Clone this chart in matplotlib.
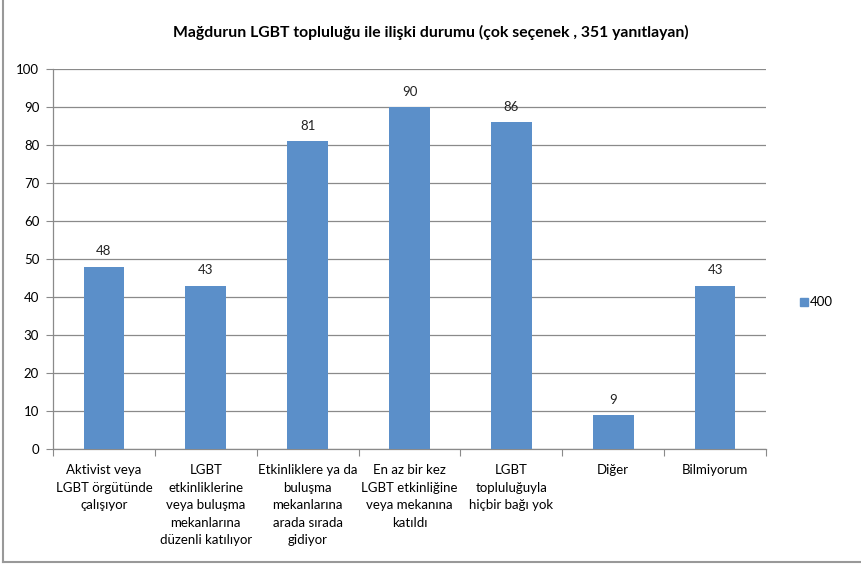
import matplotlib.pyplot as plt
from matplotlib.lines import Line2D

plt.rcParams['font.family'] = ['Lato', 'DejaVu Sans']

# Data
categories = [
    'Aktivist veya\nLGBT örgütünde\nçalışıyor',
    'LGBT\netkinliklerine\nveya buluşma\nmekanlarına\ndüzenli katılıyor',
    'Etkinliklere ya da\nbuluşma\nmekanlarına\narada sırada\ngidiyor',
    'En az bir kez\nLGBT etkinliğine\nveya mekanına\nkatıldı',
    'LGBT\ntopluluğuyla\nhiçbir bağı yok',
    'Diğer',
    'Bilmiyorum',
]
values = [48, 43, 81, 90, 86, 9, 43]
series_name = '400'
title = 'Mağdurun LGBT topluluğu ile ilişki durumu (çok seçenek , 351 yanıtlayan)'

bar_color = '#5B8FC9'
grid_color = '#8a8a8a'

fig = plt.figure(figsize=(8.61, 5.65), dpi=100)
ax = fig.add_axes([0.0616, 0.2053, 0.8281, 0.6726])

x = list(range(len(values)))
bars = ax.bar(x, values, width=0.4, color=bar_color, label=series_name, zorder=3)

for xi, v in zip(x, values):
    ax.text(xi, v + 2.4, str(v), ha='center', va='bottom', fontsize=9.5, color='#222222')

ax.set_xlim(-0.5, len(values) - 0.5)
ax.set_ylim(0, 100)
ax.set_yticks(range(0, 101, 10))
ax.grid(axis='y', color=grid_color, linewidth=0.9, zorder=0)

# category separators as ticks
ax.set_xticks([i - 0.5 for i in range(len(values) + 1)], minor=False)
ax.set_xticklabels([''] * (len(values) + 1))
ax.set_xticks(x, minor=True)
ax.set_xticklabels(categories, minor=True, fontsize=9.5, linespacing=1.55, va='top')
ax.tick_params(axis='x', which='major', length=5, color=grid_color, direction='out')
ax.tick_params(axis='x', which='minor', length=0, pad=11)
ax.tick_params(axis='y', length=5, color=grid_color, labelsize=9.5, pad=5)

for s in ['top', 'right']:
    ax.spines[s].set_visible(False)
for s in ['left', 'bottom']:
    ax.spines[s].set_color(grid_color)
    ax.spines[s].set_linewidth(0.9)

fig.text(0.5, 0.943, title, ha='center', va='center', fontsize=11.3, fontweight='bold')

leg = fig.legend(handles=[Line2D([], [], marker='s', linestyle='', color=bar_color, markersize=6)],
                 labels=[series_name], loc='center left', bbox_to_anchor=(0.915, 0.465),
                 frameon=False, handlelength=0.6, handletextpad=0.2, fontsize=9.5)

# outer frame (left and bottom visible in reference)
fig.add_artist(Line2D([0.0035, 0.0035], [0.005, 1.0], color='#999999', linewidth=1.5))
fig.add_artist(Line2D([0.0035, 1.0], [0.005, 0.005], color='#999999', linewidth=1.5))

fig.savefig('out.png', dpi=100)
